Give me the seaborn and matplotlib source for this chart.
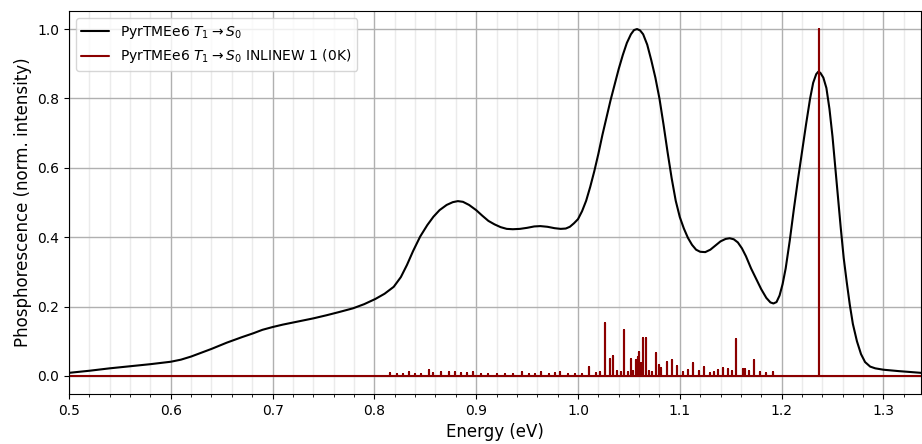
import matplotlib.pyplot as plt
import matplotlib.ticker as mticker
import seaborn as sns

# Broadened T1 -> S0 phosphorescence spectrum
energy = [0.500, 0.520, 0.540, 0.560, 0.580, 0.600, 0.610, 0.620, 0.630, 0.640,
          0.655, 0.670, 0.681, 0.690, 0.700, 0.710, 0.720, 0.730, 0.740, 0.753,
          0.765, 0.779, 0.790, 0.801, 0.810, 0.819, 0.826, 0.832, 0.838, 0.845,
          0.852, 0.858, 0.864, 0.871, 0.877, 0.882, 0.887, 0.893, 0.900, 0.906,
          0.912, 0.918, 0.924, 0.930, 0.936, 0.943, 0.950, 0.957, 0.963, 0.970,
          0.977, 0.983, 0.988, 0.992, 0.996, 1.000, 1.004, 1.008, 1.012, 1.016,
          1.020, 1.024, 1.028, 1.032, 1.036, 1.040, 1.044, 1.048, 1.052, 1.055,
          1.058, 1.061, 1.064, 1.068, 1.072, 1.076, 1.080, 1.084, 1.088, 1.092,
          1.096, 1.100, 1.104, 1.108, 1.112, 1.116, 1.120, 1.125, 1.130,
          1.135, 1.140, 1.145, 1.149, 1.153, 1.157, 1.161, 1.165, 1.170, 1.175,
          1.180, 1.185, 1.189, 1.192, 1.195, 1.198, 1.201, 1.204, 1.208, 1.212,
          1.216, 1.220, 1.224, 1.228, 1.231, 1.234, 1.236, 1.238, 1.241, 1.244,
          1.247, 1.250, 1.254, 1.258, 1.261, 1.264, 1.267, 1.270, 1.274, 1.278,
          1.282, 1.287, 1.292, 1.300, 1.315, 1.337]
intensity = [0.009, 0.015, 0.022, 0.028, 0.034, 0.041, 0.047, 0.056, 0.067, 0.078,
             0.096, 0.112, 0.123, 0.133, 0.141, 0.148, 0.154, 0.160, 0.166, 0.175,
             0.184, 0.195, 0.207, 0.222, 0.237, 0.257, 0.285, 0.320, 0.360, 0.402,
             0.435, 0.459, 0.478, 0.493, 0.501, 0.504, 0.502, 0.493, 0.478, 0.462,
             0.447, 0.437, 0.429, 0.424, 0.423, 0.424, 0.427, 0.431, 0.432, 0.430,
             0.426, 0.424, 0.425, 0.430, 0.440, 0.452, 0.475, 0.505, 0.545, 0.590,
             0.640, 0.695, 0.745, 0.795, 0.840, 0.885, 0.925, 0.960, 0.985, 0.997,
             1.000, 0.996, 0.985, 0.955, 0.910, 0.860, 0.800, 0.725, 0.645, 0.570,
             0.505, 0.458, 0.425, 0.398, 0.378, 0.364, 0.358, 0.357, 0.364,
             0.376, 0.388, 0.395, 0.397, 0.394, 0.385, 0.368, 0.345, 0.310, 0.280,
             0.250, 0.225, 0.212, 0.209, 0.213, 0.232, 0.265, 0.310, 0.390, 0.480,
             0.565, 0.645, 0.725, 0.800, 0.845, 0.870, 0.877, 0.874, 0.860, 0.830,
             0.770, 0.690, 0.560, 0.430, 0.340, 0.270, 0.205, 0.150, 0.100, 0.063,
             0.040, 0.027, 0.022, 0.018, 0.014, 0.009]

# Stick spectrum (0 K, INLINEW 1)
stick_e = [0.815, 0.822, 0.828, 0.834, 0.840, 0.846, 0.854, 0.858, 0.865, 0.873,
           0.879, 0.885, 0.891, 0.897, 0.905, 0.912, 0.920, 0.928, 0.936, 0.945,
           0.952, 0.958, 0.964, 0.972, 0.977, 0.982, 0.990, 0.997, 1.004, 1.011,
           1.018, 1.022, 1.0265, 1.0314, 1.0347, 1.0386, 1.042, 1.0455, 1.0490,
           1.0517, 1.0545, 1.057, 1.0585, 1.0599, 1.0620, 1.0642, 1.0665, 1.0700,
           1.0730, 1.0766, 1.0799, 1.0820, 1.0871, 1.0920, 1.0970, 1.1030, 1.1085,
           1.1133, 1.1190, 1.1241, 1.1300, 1.1340, 1.1380, 1.1420, 1.1470, 1.1510,
           1.1552, 1.1620, 1.1645, 1.1680, 1.1729, 1.1790, 1.1850, 1.1916, 1.2370]
stick_h = [0.008, 0.006, 0.005, 0.012, 0.006, 0.007, 0.016, 0.009, 0.011, 0.012,
           0.010, 0.009, 0.008, 0.010, 0.006, 0.005, 0.006, 0.005, 0.006, 0.012,
           0.006, 0.005, 0.012, 0.006, 0.008, 0.010, 0.006, 0.005, 0.007, 0.025,
           0.008, 0.010, 0.152, 0.048, 0.058, 0.014, 0.010, 0.133, 0.012, 0.048,
           0.015, 0.046, 0.056, 0.068, 0.037, 0.110, 0.108, 0.015, 0.012, 0.065,
           0.032, 0.022, 0.040, 0.045, 0.029, 0.012, 0.017, 0.038, 0.014, 0.026,
           0.009, 0.011, 0.018, 0.023, 0.021, 0.014, 0.106, 0.021, 0.019, 0.014,
           0.046, 0.011, 0.009, 0.011, 1.000]

X_MIN, X_MAX = 0.5, 1.337

sns.set_style('ticks', rc={
    'axes.edgecolor': 'black', 'axes.linewidth': 0.8,
    'text.color': 'black', 'axes.labelcolor': 'black',
    'xtick.color': 'black', 'ytick.color': 'black',
    'xtick.major.size': 3.5, 'ytick.major.size': 3.5,
    'xtick.minor.size': 2.0, 'xtick.major.width': 0.8,
    'ytick.major.width': 0.8, 'xtick.minor.width': 0.6,
})
plt.rcParams['font.family'] = ['DejaVu Sans']
plt.rcParams['mathtext.fontset'] = 'dejavusans'

# turn the sticks into one continuous trace on a zero baseline
stick_x, stick_y = [X_MIN], [0.0]
for e, h in zip(stick_e, stick_h):
    stick_x += [e, e, e]
    stick_y += [0.0, h, 0.0]
stick_x.append(X_MAX)
stick_y.append(0.0)

fig = plt.figure(figsize=(9.22, 4.44), dpi=100)
ax = fig.add_axes([0.0748, 0.1126, 0.9242, 0.8626])

sns.lineplot(x=energy, y=intensity, ax=ax, color='black', lw=1.5,
             label=r'PyrTMEe6 $T_1 \rightarrow S_0$')
sns.lineplot(x=stick_x, y=stick_y, ax=ax, color='darkred', lw=1.5,
             sort=False, estimator=None,
             label=r'PyrTMEe6 $T_1 \rightarrow S_0$ INLINEW 1 (0K)')

ax.set_xlim(X_MIN, X_MAX)
ax.set_ylim(-0.052, 1.052)
ax.xaxis.set_major_locator(mticker.MultipleLocator(0.1))
ax.xaxis.set_minor_locator(mticker.MultipleLocator(0.02))
ax.yaxis.set_major_locator(mticker.MultipleLocator(0.2))
ax.grid(which='major', color='#b0b0b0', lw=1.0)
ax.grid(which='minor', axis='x', color='#b0b0b0', lw=1.0, alpha=0.25)
ax.set_axisbelow(True)
ax.tick_params(labelsize=10)
for s in ax.spines.values():
    s.set_visible(True)

ax.set_xlabel('Energy (eV)', fontsize=12)
ax.set_ylabel('Phosphorescence (norm. intensity)', fontsize=12)
ax.legend(loc='upper left', fontsize=10, frameon=True)

fig.savefig('out.png', dpi=100)
